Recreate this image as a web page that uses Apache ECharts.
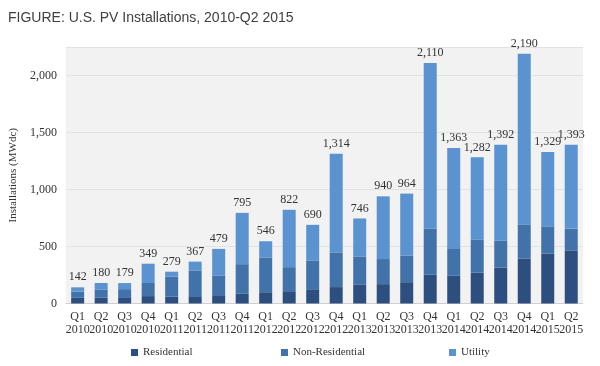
<!DOCTYPE html>
<html>
<head>
<meta charset="utf-8">
<script src="https://cdn.jsdelivr.net/npm/echarts@6/dist/echarts.min.js"></script>
<style>html,body{margin:0;padding:0;background:#fff;}#c{width:600px;height:366px;}</style>
</head>
<body>
<div id="c"></div>
<script>
var categories = ["Q1\n2010","Q2\n2010","Q3\n2010","Q4\n2010","Q1\n2011","Q2\n2011","Q3\n2011","Q4\n2011",
  "Q1\n2012","Q2\n2012","Q3\n2012","Q4\n2012","Q1\n2013","Q2\n2013","Q3\n2013","Q4\n2013",
  "Q1\n2014","Q2\n2014","Q3\n2014","Q4\n2014","Q1\n2015","Q2\n2015"];
var residential = [50,53,55,65,60,64,73,85,99,108,125,144,164,170,187,252,243,272,316,395,437,466];
var nonResidential = [55,67,71,115,176,226,173,260,305,211,253,304,249,220,232,404,235,288,235,299,240,191];
var utility = [37,60,53,169,43,77,233,450,142,503,312,866,333,550,545,1454,885,722,841,1496,652,736];
var totals = [142,180,179,349,279,367,479,795,546,822,690,1314,746,940,964,2110,1363,1282,1392,2190,1329,1393];
var yTicks = [0,500,1000,1500,2000];

var serif = '"Liberation Serif", "DejaVu Serif", serif';
var colors = ['#2d4f80', '#4272aa', '#5b92d0'];
function fmt(v){ return String(v).replace(/\B(?=(\d{3})+(?!\d))/g, ','); }

var chart = echarts.init(document.getElementById('c'));
chart.setOption({
  animation: false,
  color: colors,
  title: {
    text: 'FIGURE: U.S. PV Installations, 2010-Q2 2015',
    left: 8, top: 11, padding: 0,
    textStyle: { fontFamily: '"Liberation Sans", Arial, sans-serif', fontSize: 14, fontWeight: 'normal', color: '#404040' }
  },
  legend: [
    { data: ['Residential'], left: 131, top: 347, itemWidth: 7, itemHeight: 7, padding: 0, icon: 'rect',
      textStyle: { fontFamily: serif, fontSize: 11, color: '#333' } },
    { data: ['Non-Residential'], left: 281, top: 347, itemWidth: 7, itemHeight: 7, padding: 0, icon: 'rect',
      textStyle: { fontFamily: serif, fontSize: 11, color: '#333' } },
    { data: ['Utility'], left: 449, top: 347, itemWidth: 7, itemHeight: 7, padding: 0, icon: 'rect',
      textStyle: { fontFamily: serif, fontSize: 11, color: '#333' } }
  ],
  grid: { left: 64, right: 17, top: 47, bottom: 62.5, show: true, backgroundColor: '#f2f2f2', borderWidth: 0 },
  xAxis: {
    type: 'category',
    data: categories,
    axisLine: { lineStyle: { color: '#d0d0d0' } },
    axisTick: { show: false },
    axisLabel: { interval: 0, fontFamily: serif, fontSize: 12, color: '#333', lineHeight: 13, margin: 7 }
  },
  yAxis: {
    type: 'value',
    min: 0, max: 2250, interval: 500,
    name: 'Installations (MWdc)',
    nameLocation: 'middle', nameGap: 44, nameRotate: 90,
    nameTextStyle: { fontFamily: serif, fontSize: 11, color: '#333' },
    axisLine: { show: false }, axisTick: { show: false },
    axisLabel: { showMaxLabel: false, fontFamily: serif, fontSize: 12, color: '#333', margin: 9,
      formatter: function(v){ return yTicks.indexOf(v) >= 0 ? fmt(v) : ''; } },
    splitLine: { lineStyle: { color: '#e2e2e2' } }
  },
  series: [
    { name: 'Residential', type: 'bar', stack: 'pv', barWidth: 13, data: residential },
    { name: 'Non-Residential', type: 'bar', stack: 'pv', barWidth: 13, data: nonResidential },
    { name: 'Utility', type: 'bar', stack: 'pv', barWidth: 13, data: utility,
      label: { show: true, position: 'top', distance: 4, fontFamily: serif, fontSize: 12, color: '#333',
        formatter: function(p){ return fmt(totals[p.dataIndex]); } } }
  ]
});
</script>
</body>
</html>
